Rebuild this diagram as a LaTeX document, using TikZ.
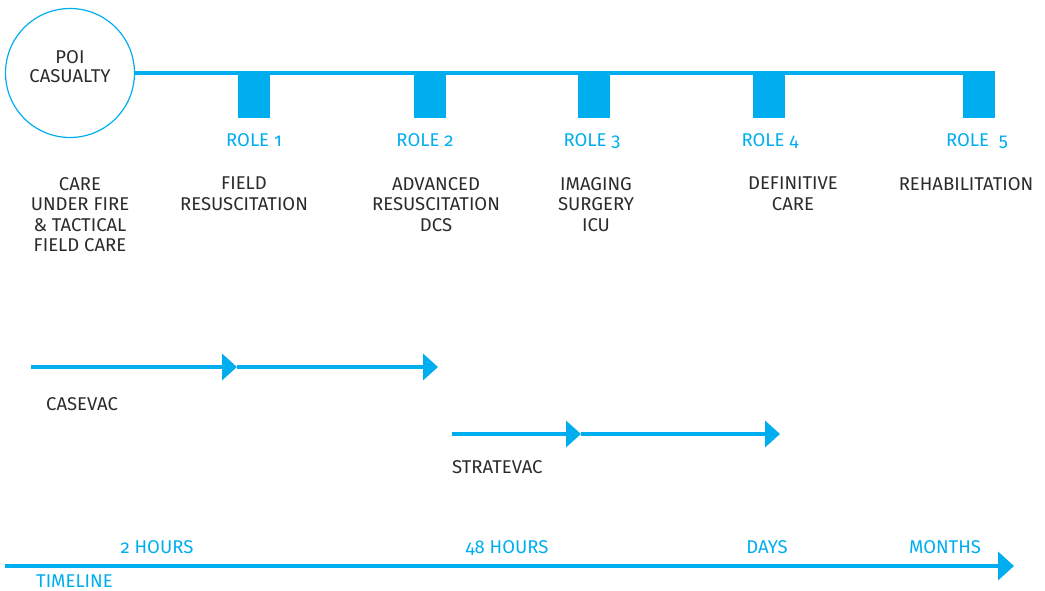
\documentclass[tikz,border=0pt]{standalone}
\usepackage{fontspec}
\setmainfont[Numbers=OldStyle]{Fira Sans}
\usetikzlibrary{positioning}
\usetikzlibrary{calc}
\usetikzlibrary{arrows.meta}

\definecolor{evacblue}{HTML}{00AEEF}
\definecolor{txtgray}{HTML}{2B2B2B}

\tikzset{
  role/.style={fill=evacblue, minimum width=32pt, minimum height=46pt, inner sep=0pt, anchor=north},
  rolelabel/.style={text=evacblue, font=\fontsize{18.5}{20}\selectfont, inner sep=0pt, anchor=base},
  care/.style={text=txtgray, align=center, font=\fontsize{18.5}{20.5}\selectfont, inner sep=0pt, anchor=north},
  evac/.style={draw=evacblue, line width=4pt, -{Triangle[length=15pt,width=26pt]}},
  evaclabel/.style={text=txtgray, font=\fontsize{18.5}{20}\selectfont, inner sep=0pt, anchor=base west},
  timelabel/.style={text=evacblue, font=\fontsize{18.5}{20}\selectfont, inner sep=0pt, anchor=base},
}

\begin{document}
\begin{tikzpicture}[x=1pt,y=-1pt]
\useasboundingbox (0,0) rectangle (1045,591);

% point of injury and the chain of roles
\node[draw=evacblue, line width=1.2pt, circle, minimum size=129pt, inner sep=0pt](poi) at (70,73){};
\node[text=txtgray, align=center, font=\fontsize{18.5}{19}\selectfont, inner sep=0pt](poitext) at (70,67){POI\\CASUALTY};
\coordinate(chainend) at (995,73);
\path (poi.east) edge[draw=evacblue, line width=4pt] (chainend);

\node[role](r1) at (254,72){};
\node[role](r2) at (429.5,72){};
\node[role](r3) at (593.5,72){};
\node[role](r4) at (768.5,72){};
\node[role](r5) at (978.5,72){};

\node[rolelabel](l1) at (254,147){ROLE 1};
\node[rolelabel](l2) at (425,147){ROLE 2};
\node[rolelabel](l3) at (592,147){ROLE 3};
\node[rolelabel](l4) at (770,147){ROLE 4};
\node[rolelabel](l5) at (977,147){ROLE\ \ 5};

\node[care](c0) at (80,177){CARE\\UNDER FIRE\\\&\ TACTICAL\\FIELD CARE};
\node[care](c1) at (244,177){FIELD\\RESUSCITATION};
\node[care](c2) at (436,177){ADVANCED\\RESUSCITATION\\DCS};
\node[care](c3) at (596,177){IMAGING\\SURGERY\\ICU};
\node[care](c4) at (793,177){DEFINITIVE\\CARE};
\node[care](c5) at (966,177){REHABILITATION};

% evacuation legs
\coordinate(casestart) at (31,367);
\coordinate(casemid) at (237,367);
\coordinate(caseend) at (438,367);
\coordinate(stratstart) at (452,434);
\coordinate(stratmid) at (581,434);
\coordinate(stratend) at (780,434);

\path
(casestart) edge[evac] (casemid)
(casemid) edge[evac] (caseend)
(stratstart) edge[evac] (stratmid)
(stratmid) edge[evac] (stratend);

\node[evaclabel](casevac) at (46,410){CASEVAC};
\node[evaclabel](stratevac) at (452,473){STRATEVAC};

% timeline
\coordinate(tstart) at (5,566);
\coordinate(tend) at (1014,566);
\path (tstart) edge[draw=evacblue, line width=4pt, -{Triangle[length=16pt,width=28pt]}] (tend);

\node[timelabel](t1) at (157,553){2 HOURS};
\node[timelabel](t2) at (507,553){48 HOURS};
\node[timelabel](t3) at (767,553){DAYS};
\node[timelabel](t4) at (945,553){MONTHS};
\node[timelabel, anchor=base west](tl) at (36,587){TIMELINE};
\end{tikzpicture}
\end{document}
